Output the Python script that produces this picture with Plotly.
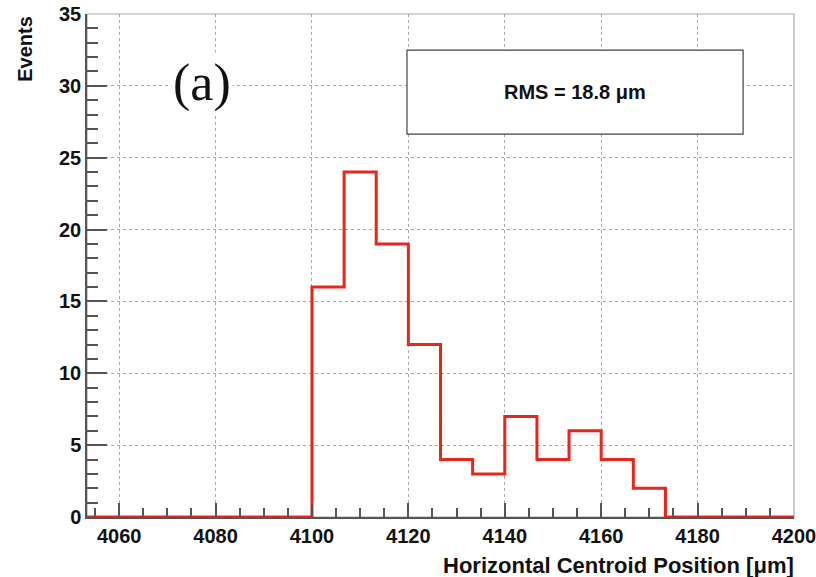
import plotly.graph_objects as go

# Histogram bin edges (µm) and counts per bin
bin_edges = [4053.33, 4060.0, 4066.67, 4073.33, 4080.0, 4086.67, 4093.33, 4100.0,
             4106.67, 4113.33, 4120.0, 4126.67, 4133.33, 4140.0, 4146.67, 4153.33,
             4160.0, 4166.67, 4173.33, 4180.0, 4186.67, 4193.33, 4200.0]
counts = [0, 0, 0, 0, 0, 0, 0, 16, 24, 19, 12, 4, 3, 7, 4, 6, 4, 2, 0, 0, 0, 0]

x_ticks = [4060, 4080, 4100, 4120, 4140, 4160, 4180, 4200]
y_ticks = [0, 5, 10, 15, 20, 25, 30, 35]

step_y = counts + [counts[-1]]

fig = go.Figure()
fig.add_trace(go.Scatter(
    x=bin_edges, y=step_y, mode="lines", line_shape="hv",
    line=dict(color="#e8261c", width=3), hoverinfo="skip", showlegend=False,
    cliponaxis=False,
))

SANS = "Liberation Sans, Arial, sans-serif"
tickfont = dict(family=SANS, size=20, color="#111", weight="bold")
fig.update_xaxes(
    range=[bin_edges[0], bin_edges[-1]], tickvals=x_ticks,
    ticktext=[str(v) for v in x_ticks],
    showgrid=True, gridcolor="#a8a8a8", griddash="dot", gridwidth=1,
    showline=True, linecolor="#555", linewidth=1.5,
    ticks="inside", ticklen=14, tickcolor="#555", tickwidth=1.5,
    minor=dict(dtick=5, tick0=4060, ticks="inside", ticklen=9, tickcolor="#555",
               tickwidth=1.5, showgrid=False),
    tickfont=tickfont, zeroline=False, fixedrange=True,
    automargin=False, ticklabeloverflow="allow",
)
fig.update_yaxes(
    range=[0, 35], tickvals=y_ticks, ticktext=[str(v) for v in y_ticks],
    showgrid=True, gridcolor="#a8a8a8", griddash="dot", gridwidth=1,
    showline=True, linecolor="#555", linewidth=1.5,
    ticks="inside", ticklen=20, tickcolor="#555", tickwidth=1.5,
    minor=dict(dtick=1, tick0=0, ticks="inside", ticklen=11, tickcolor="#555",
               tickwidth=1.5, showgrid=False),
    tickfont=tickfont, zeroline=False, fixedrange=True,
    automargin=False, ticklabeloverflow="allow",
)

# light frame on top/right
fig.add_shape(type="rect", xref="paper", yref="paper", x0=0, x1=1, y0=0, y1=1,
              line=dict(color="#aaa", width=1.2), layer="below")
# stats box
bx0, bx1, by0, by1 = 0.4526, 0.928, 0.761, 0.928
fig.add_shape(type="rect", xref="paper", yref="paper", x0=bx0, x1=bx1,
              y0=by0, y1=by1, line=dict(color="#444", width=1.2),
              fillcolor="white", layer="above")
fig.add_annotation(xref="paper", yref="paper", x=(bx0 + bx1) / 2, xanchor="center",
                   y=(by0 + by1) / 2, yanchor="middle", text="<b>RMS = 18.8 μm</b>",
                   showarrow=False,
                   font=dict(family=SANS, size=20, color="#111"))
fig.add_annotation(xref="paper", yref="paper", x=0.163, xanchor="center",
                   y=0.862, yanchor="middle", text="(a)",
                   showarrow=False, bgcolor="white",
                   font=dict(family="Liberation Serif, Times New Roman, serif", size=52, color="#111"))
fig.add_annotation(xref="paper", yref="paper", x=1.003, xanchor="right",
                   y=-0.0955, yanchor="middle",
                   text="<b>Horizontal Centroid Position [μm]</b>", showarrow=False,
                   font=dict(family=SANS, size=22, color="#111"))
fig.add_annotation(xref="paper", yref="paper", x=-0.088, xanchor="center",
                   y=1.0, yanchor="top", textangle=-90,
                   text="<b>Events</b>", showarrow=False,
                   font=dict(family=SANS, size=20, color="#111"))

fig.update_layout(
    width=816, height=577, margin=dict(l=87, r=22, t=14, b=60),
    paper_bgcolor="white", plot_bgcolor="white", showlegend=False,
)

fig.write_html("out.html")
